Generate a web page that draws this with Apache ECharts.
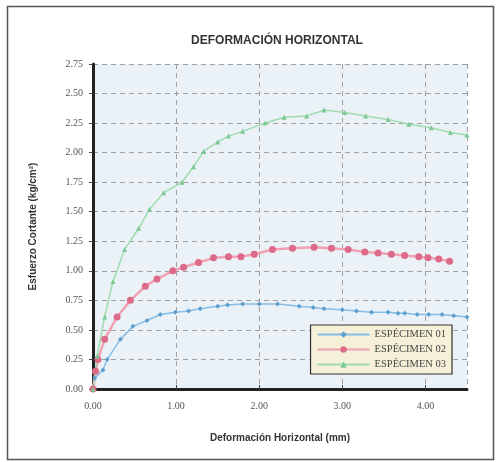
<!DOCTYPE html>
<html>
<head>
<meta charset="utf-8">
<script src="https://cdn.jsdelivr.net/npm/echarts@6/dist/echarts.min.js"></script>
<style>
html,body{margin:0;padding:0;background:#fff;}
#chart{width:497px;height:462px;}
</style>
</head>
<body>
<div id="chart"></div>
<script>
// Deformación horizontal (mm) vs esfuerzo cortante (kg/cm²) for three specimens
const seriesNames = ['ESPÉCIMEN 01', 'ESPÉCIMEN 02', 'ESPÉCIMEN 03'];

const esp01X = [0, 0.02, 0.12, 0.17, 0.33, 0.48, 0.65, 0.81, 0.99, 1.15, 1.29, 1.50, 1.62, 1.80, 2.00, 2.22, 2.48, 2.65, 2.78, 3.00, 3.17, 3.35, 3.55, 3.67, 3.75, 3.90, 4.04, 4.20, 4.34, 4.50];
const esp01Y = [0, 0.09, 0.16, 0.25, 0.42, 0.53, 0.58, 0.63, 0.65, 0.66, 0.68, 0.70, 0.71, 0.72, 0.72, 0.72, 0.70, 0.69, 0.68, 0.67, 0.66, 0.65, 0.65, 0.64, 0.64, 0.63, 0.63, 0.63, 0.62, 0.61];

const esp02X = [0, 0.03, 0.06, 0.14, 0.29, 0.45, 0.63, 0.77, 0.96, 1.09, 1.27, 1.45, 1.63, 1.78, 1.94, 2.16, 2.40, 2.66, 2.87, 3.07, 3.27, 3.43, 3.59, 3.75, 3.92, 4.03, 4.16, 4.29];
const esp02Y = [0, 0.15, 0.25, 0.42, 0.61, 0.75, 0.87, 0.93, 1.00, 1.03, 1.07, 1.11, 1.12, 1.12, 1.14, 1.18, 1.19, 1.20, 1.19, 1.18, 1.16, 1.15, 1.14, 1.13, 1.12, 1.11, 1.10, 1.08];

const esp03X = [0, 0.05, 0.14, 0.24, 0.38, 0.55, 0.68, 0.85, 1.07, 1.21, 1.33, 1.50, 1.63, 1.80, 2.07, 2.30, 2.57, 2.78, 3.03, 3.28, 3.55, 3.80, 4.07, 4.30, 4.50];
const esp03Y = [0, 0.28, 0.61, 0.91, 1.18, 1.36, 1.52, 1.66, 1.75, 1.88, 2.01, 2.09, 2.14, 2.18, 2.25, 2.30, 2.31, 2.36, 2.34, 2.31, 2.28, 2.24, 2.21, 2.17, 2.15];

const xTicks = ['0.00', '1.00', '2.00', '3.00', '4.00'];

const pair = (xs, ys) => xs.map((x, i) => [x, ys[i]]);

const chart = echarts.init(document.getElementById('chart'), null, {renderer: 'canvas'});

const gridLine = {show: true, lineStyle: {type: [5, 4], color: '#a0a0a0', width: 1}};

chart.setOption({
  backgroundColor: '#ffffff',
  animation: false,
  graphic: [{
    type: 'rect', left: 5, top: 4, shape: {width: 486, height: 453},
    style: {fill: 'none', stroke: '#555', lineWidth: 1.5}, silent: true
  }],
  title: {
    text: 'DEFORMACIÓN HORIZONTAL',
    left: 272, top: 30, textAlign: 'center',
    textStyle: {fontFamily: 'Liberation Sans, Arial', fontSize: 12, fontWeight: 'bold', color: '#333'}
  },
  grid: {
    left: 93, top: 64, width: 374, height: 325,
    show: true, backgroundColor: '#ebf2f7', borderWidth: 0
  },
  legend: {
    orient: 'vertical', right: 45, top: 325,
    backgroundColor: '#f6f0d8', borderColor: '#333', borderWidth: 1.2,
    padding: [4, 6, 4, 6], itemGap: 4,
    itemWidth: 52, itemHeight: 8,
    textStyle: {fontFamily: 'Liberation Serif, Times New Roman', fontSize: 10.5, color: '#444'},
    data: seriesNames
  },
  xAxis: {
    type: 'value', min: 0, max: 4.5, interval: 1,
    name: 'Deformación Horizontal (mm)', nameLocation: 'middle', nameGap: 44,
    nameTextStyle: {fontFamily: 'Liberation Sans, Arial', fontSize: 10, fontWeight: 'bold', color: '#333'},
    axisLine: {show: true, onZero: false, lineStyle: {color: '#222', width: 3}},
    axisTick: {show: true, inside: true, length: 4, lineStyle: {color: '#444'}},
    axisLabel: {
      showMaxLabel: false, margin: 12,
      fontFamily: 'Liberation Serif, Times New Roman', fontSize: 10, color: '#555',
      formatter: v => xTicks[Math.round(v)] || ''
    },
    splitLine: gridLine
  },
  yAxis: {
    type: 'value', min: 0, max: 2.75, interval: 0.25,
    name: 'Esfuerzo Cortante (kg/cm²)', nameLocation: 'middle', nameGap: 55,
    nameTextStyle: {fontFamily: 'Liberation Sans, Arial', fontSize: 10, fontWeight: 'bold', color: '#333'},
    axisLine: {show: true, onZero: false, lineStyle: {color: '#222', width: 3}},
    axisTick: {show: true, inside: false, length: 4, lineStyle: {color: '#444'}},
    axisLabel: {
      margin: 10,
      fontFamily: 'Liberation Serif, Times New Roman', fontSize: 10, color: '#555',
      formatter: v => v.toFixed(2)
    },
    splitLine: gridLine
  },
  series: [
    {
      name: seriesNames[0], type: 'line', data: pair(esp01X, esp01Y),
      symbol: 'diamond', symbolSize: 5,
      lineStyle: {color: '#86bde6', width: 1.5},
      itemStyle: {color: '#5f9fd0'}
    },
    {
      name: seriesNames[1], type: 'line', data: pair(esp02X, esp02Y),
      symbol: 'circle', symbolSize: 7,
      lineStyle: {color: '#f2a0b4', width: 2.5},
      itemStyle: {color: '#dc6a88'}
    },
    {
      name: seriesNames[2], type: 'line', data: pair(esp03X, esp03Y),
      symbol: 'triangle', symbolSize: 5,
      lineStyle: {color: '#9edcb0', width: 1.5},
      itemStyle: {color: '#7cc895'}
    }
  ]
});
</script>
</body>
</html>
